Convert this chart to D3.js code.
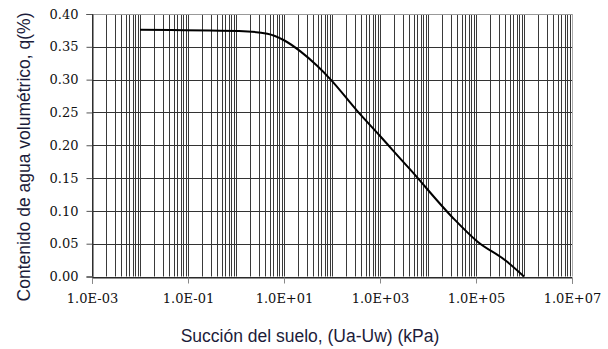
<!DOCTYPE html>
<html><head><meta charset="utf-8">
<script src="https://cdn.jsdelivr.net/npm/d3@7"></script>
<style>body{margin:0;background:#fff}</style>
</head><body>
<svg id="c" width="608" height="349"></svg>
<script>
const suction = [0.01, 1.15, 4.5, 10, 22, 49, 94, 338, 1035, 1816, 4375, 32400, 108000, 420000, 1000000];
const theta   = [0.376, 0.374, 0.370, 0.360, 0.343, 0.321, 0.300, 0.252, 0.213, 0.193, 0.162, 0.090, 0.053, 0.024, 0.0];
const xTickValues = [1e-3, 1e-1, 1e1, 1e3, 1e5, 1e7];
const xTickLabels = ["1.0E-03", "1.0E-01", "1.0E+01", "1.0E+03", "1.0E+05", "1.0E+07"];
const yTickValues = [0, 0.05, 0.10, 0.15, 0.20, 0.25, 0.30, 0.35, 0.40];
const xTitle = "Succión del suelo, (Ua-Uw) (kPa)";
const yTitle = "Contenido de agua volumétrico, q(%)";

const svg = d3.select("#c");
const L = 92, R = 572, T = 14, B = 276.5;
const x = d3.scaleLog().domain([1e-3, 1e7]).range([L, R]);
const y = d3.scaleLinear().domain([0, 0.40]).range([B, T]);
const sans = "'Liberation Sans', Arial, sans-serif";
const serif = "DejaVu Serif";

// vertical grid (decades + minors)
const vgrid = [];
for (let e = -3; e < 7; e++) for (let m = 1; m <= 9; m++) vgrid.push(m * Math.pow(10, e));
vgrid.push(1e7);
const g = svg.append("g");
g.selectAll("line.v").data(vgrid).join("line")
  .attr("x1", d => Math.round(x(d)) + 0.5).attr("x2", d => Math.round(x(d)) + 0.5)
  .attr("y1", T).attr("y2", B)
  .attr("stroke", d => d === 1e7 ? "#aaa" : "#3a3a3a").attr("stroke-width", 1);
g.selectAll("line.h").data(yTickValues).join("line")
  .attr("x1", L).attr("x2", R)
  .attr("y1", d => Math.round(y(d)) + 0.5).attr("y2", d => Math.round(y(d)) + 0.5)
  .attr("stroke", d => d === 0.40 ? "#999" : "#333").attr("stroke-width", 1);

// x axis
const xAxis = d3.axisBottom(x).tickValues(xTickValues)
  .tickFormat((d, i) => xTickLabels[i]).tickSize(6).tickPadding(10);
const gx = svg.append("g").attr("transform", `translate(0,${Math.round(B)+0.5})`).call(xAxis);
gx.attr("font-family", serif).attr("font-size", 13);
gx.select(".domain").attr("stroke", "#222");
gx.selectAll(".tick line").attr("stroke", "#888");
gx.selectAll("text").attr("fill", "#111");

// y axis
const yAxis = d3.axisLeft(y).tickValues(yTickValues).tickFormat(d3.format(".2f")).tickSize(6).tickPadding(8);
const gy = svg.append("g").attr("transform", `translate(${L+0.5},0)`).call(yAxis);
gy.attr("font-family", serif).attr("font-size", 13);
gy.select(".domain").attr("stroke", "#222");
gy.selectAll(".tick line").attr("stroke", "#555");
gy.selectAll("text").attr("fill", "#111");

// curve
const pts = suction.map((s, i) => [s, theta[i]]);
svg.append("path").datum(pts)
  .attr("fill", "none").attr("stroke", "#000").attr("stroke-width", 2)
  .attr("d", d3.line().x(d => x(d[0])).y(d => y(d[1])).curve(d3.curveMonotoneX));

// titles
svg.append("text").attr("x", 310).attr("y", 342).attr("text-anchor", "middle")
  .style("font-family", sans).style("font-size", "17.5px").attr("fill", "#1c1c3a").text(xTitle);
svg.append("text").attr("transform", "translate(30,157) rotate(-90)").attr("text-anchor", "middle")
  .style("font-family", sans).style("font-size", "17.5px").attr("fill", "#1c1c3a").text(yTitle);
</script>
</body></html>
